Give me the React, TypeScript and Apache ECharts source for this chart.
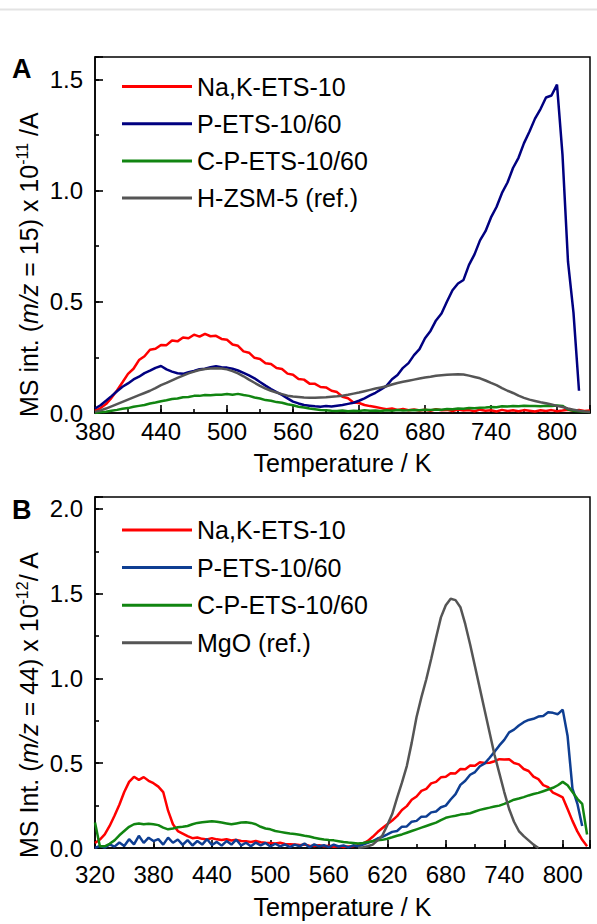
import React, { useEffect, useRef } from 'react';
import * as echarts from 'echarts';

const FONT = '"Liberation Sans", Arial, Helvetica, sans-serif';

function range(a: number, b: number, s: number): number[] {
  const r: number[] = [];
  for (let t = a; t <= b + 1e-9; t += s) r.push(t);
  return r;
}

// ---------- Panel A (m/z = 15) ----------
const tempA = range(380, 830, 5);
const xTicksA = { min: 380, max: 830, minor: 30, major: 60 };
const yTicksA = { min: 0, max: 1.6, minor: 0.25, major: 0.5 };

const aNaK = [
  0.010, 0.022, 0.040, 0.068, 0.101, 0.138, 0.176, 0.199, 0.238, 0.255,
  0.284, 0.289, 0.306, 0.305, 0.326, 0.322, 0.339, 0.336, 0.352, 0.343,
  0.356, 0.345, 0.347, 0.333, 0.329, 0.308, 0.302, 0.277, 0.271, 0.248,
  0.243, 0.224, 0.220, 0.202, 0.198, 0.177, 0.172, 0.153, 0.150, 0.132,
  0.131, 0.117, 0.115, 0.100, 0.094, 0.073, 0.066, 0.047, 0.045, 0.036,
  0.031, 0.027, 0.022, 0.017, 0.020, 0.014, 0.018, 0.012, 0.016, 0.011,
  0.015, 0.010, 0.017, 0.012, 0.014, 0.009, 0.016, 0.011, 0.013, 0.008,
  0.015, 0.010, 0.012, 0.007, 0.014, 0.009, 0.012, 0.008, 0.013, 0.010,
  0.007, 0.012, 0.009, 0.013, 0.008, 0.011, 0.015, 0.010, 0.013, 0.009,
  0.011,
];
const aPETS = [
  0.020, 0.035, 0.055, 0.076, 0.098, 0.118, 0.133, 0.151, 0.163, 0.179,
  0.190, 0.203, 0.211, 0.196, 0.186, 0.179, 0.176, 0.183, 0.189, 0.197,
  0.199, 0.206, 0.210, 0.206, 0.204, 0.199, 0.191, 0.180, 0.169, 0.156,
  0.139, 0.123, 0.108, 0.094, 0.081, 0.066, 0.051, 0.043, 0.036, 0.033,
  0.030, 0.028, 0.031, 0.029, 0.033, 0.036, 0.041, 0.046, 0.055, 0.066,
  0.079, 0.091, 0.106, 0.122, 0.152, 0.171, 0.203, 0.224, 0.260, 0.287,
  0.336, 0.369, 0.416, 0.447, 0.501, 0.552, 0.582, 0.598, 0.666, 0.713,
  0.776, 0.817, 0.879, 0.926, 0.989, 1.036, 1.101, 1.147, 1.213, 1.265,
  1.323, 1.366, 1.418, 1.427, 1.476, 1.160, 0.680, 0.450, 0.100, null,
  null,
];
const aCPETS = [
  0.000, 0.003, 0.006, 0.010, 0.014, 0.019, 0.022, 0.028, 0.032, 0.036,
  0.043, 0.047, 0.053, 0.057, 0.063, 0.065, 0.071, 0.072, 0.077, 0.077,
  0.081, 0.080, 0.082, 0.082, 0.085, 0.082, 0.086, 0.081, 0.077, 0.070,
  0.065, 0.058, 0.055, 0.049, 0.046, 0.039, 0.035, 0.028, 0.025, 0.020,
  0.017, 0.014, 0.012, 0.010, 0.009, 0.011, 0.008, 0.010, 0.009, 0.012,
  0.010, 0.011, 0.009, 0.012, 0.010, 0.013, 0.011, 0.012, 0.014, 0.012,
  0.015, 0.013, 0.016, 0.015, 0.018, 0.017, 0.020, 0.019, 0.022, 0.021,
  0.024, 0.025, 0.027, 0.026, 0.030, 0.029, 0.031, 0.030, 0.033, 0.031,
  0.032, 0.030, 0.033, 0.031, 0.034, 0.032, 0.016, 0.010, 0.008, 0.006,
  0.005,
];
const aHZSM = [
  0.005, 0.012, 0.020, 0.030, 0.040, 0.050, 0.060, 0.070, 0.080, 0.090,
  0.100, 0.112, 0.125, 0.135, 0.147, 0.158, 0.168, 0.178, 0.186, 0.193,
  0.198, 0.200, 0.201, 0.200, 0.196, 0.188, 0.178, 0.165, 0.150, 0.136,
  0.122, 0.110, 0.100, 0.092, 0.085, 0.078, 0.074, 0.072, 0.070, 0.069,
  0.069, 0.070, 0.071, 0.073, 0.075, 0.078, 0.082, 0.087, 0.092, 0.098,
  0.104, 0.110, 0.115, 0.120, 0.128, 0.135, 0.140, 0.145, 0.150, 0.155,
  0.160, 0.163, 0.167, 0.170, 0.172, 0.173, 0.174, 0.173, 0.168, 0.162,
  0.156, 0.146, 0.135, 0.125, 0.112, 0.100, 0.090, 0.078, 0.068, 0.060,
  0.054, 0.048, 0.044, 0.038, 0.032, 0.027, 0.020, 0.015, 0.010, 0.007,
  0.005,
];
const namesA = ['Na,K-ETS-10', 'P-ETS-10/60', 'C-P-ETS-10/60', 'H-ZSM-5 (ref.)'];
const colorsA = ['#ff0000', '#000080', '#118511', '#555555'];

// ---------- Panel B (m/z = 44) ----------
const tempB = range(320, 825, 5);
const xTicksB = { min: 320, max: 828, minor: 30, major: 60 };
const yTicksB = { min: 0, max: 2.07, minor: 0.25, major: 0.5 };

const bNaK = [
  0.030, 0.050, 0.080, 0.130, 0.190, 0.255, 0.330, 0.390, 0.420, 0.402,
  0.418, 0.396, 0.382, 0.362, 0.330, 0.220, 0.140, 0.100, 0.085, 0.070,
  0.058, 0.062, 0.054, 0.050, 0.058, 0.051, 0.047, 0.052, 0.044, 0.048,
  0.041, 0.040, 0.036, 0.041, 0.034, 0.031, 0.030, 0.027, 0.031, 0.024,
  0.022, 0.020, 0.017, 0.021, 0.014, 0.012, 0.016, 0.010, 0.013, 0.008,
  0.011, 0.006, 0.009, 0.011, 0.016, 0.026, 0.042, 0.066, 0.094, 0.118,
  0.140, 0.162, 0.188, 0.224, 0.247, 0.284, 0.304, 0.337, 0.349, 0.381,
  0.390, 0.417, 0.420, 0.441, 0.440, 0.466, 0.465, 0.487, 0.485, 0.506,
  0.502, 0.503, 0.512, 0.524, 0.522, 0.523, 0.501, 0.493, 0.466, 0.454,
  0.421, 0.406, 0.371, 0.359, 0.326, 0.313, 0.298, 0.230, 0.160, 0.098,
  0.048, 0.010,
];
const bPETS = [
  0.000, 0.012, 0.002, 0.021, 0.008, 0.032, 0.012, 0.052, 0.022, 0.072,
  0.030, 0.061, 0.041, 0.052, 0.020, 0.061, 0.031, 0.050, 0.019, 0.046,
  0.015, 0.041, 0.020, 0.052, 0.018, 0.036, 0.014, 0.041, 0.020, 0.049,
  0.015, 0.031, 0.010, 0.032, 0.016, 0.030, 0.009, 0.025, 0.010, 0.021,
  0.005, 0.020, 0.010, 0.026, 0.004, 0.021, 0.010, 0.016, 0.005, 0.020,
  0.009, 0.015, 0.004, 0.016, 0.010, 0.020, 0.030, 0.041, 0.056, 0.066,
  0.080, 0.095, 0.100, 0.126, 0.127, 0.155, 0.160, 0.185, 0.186, 0.210,
  0.215, 0.240, 0.250, 0.286, 0.318, 0.372, 0.397, 0.432, 0.448, 0.482,
  0.499, 0.532, 0.567, 0.605, 0.638, 0.682, 0.698, 0.722, 0.742, 0.755,
  0.762, 0.775, 0.778, 0.800, 0.797, 0.789, 0.816, 0.660, 0.350, 0.262,
  0.130, null,
];
const bCPETS = [
  0.150, 0.010, 0.010, 0.025, 0.045, 0.075, 0.100, 0.125, 0.140, 0.145,
  0.140, 0.143, 0.140, 0.135, 0.120, 0.110, 0.115, 0.122, 0.125, 0.130,
  0.140, 0.148, 0.152, 0.155, 0.158, 0.155, 0.150, 0.145, 0.140, 0.145,
  0.150, 0.152, 0.148, 0.140, 0.125, 0.115, 0.110, 0.100, 0.095, 0.090,
  0.085, 0.082, 0.078, 0.072, 0.068, 0.060, 0.055, 0.050, 0.047, 0.045,
  0.040, 0.035, 0.032, 0.030, 0.027, 0.030, 0.035, 0.040, 0.045, 0.048,
  0.055, 0.063, 0.072, 0.080, 0.090, 0.100, 0.110, 0.120, 0.130, 0.140,
  0.150, 0.165, 0.178, 0.185, 0.190, 0.197, 0.200, 0.205, 0.215, 0.225,
  0.232, 0.238, 0.245, 0.250, 0.260, 0.272, 0.285, 0.292, 0.300, 0.310,
  0.318, 0.325, 0.335, 0.345, 0.355, 0.370, 0.390, 0.370, 0.330, 0.290,
  0.260, 0.080,
];
const bMgO = [
  null, null, null, null, null, null, null, null, null, null,
  null, null, null, null, null, null, null, null, null, null,
  null, null, null, null, null, null, null, null, null, null,
  null, null, null, null, null, null, null, null, null, null,
  null, null, null, null, null, null, null, null, null, null,
  null, null, null, null, 0.000, 0.004, 0.010, 0.020, 0.045, 0.075,
  0.135, 0.200, 0.295, 0.385, 0.483, 0.620, 0.773, 0.890, 0.995, 1.115,
  1.240, 1.360, 1.432, 1.470, 1.462, 1.420, 1.320, 1.200, 1.070, 0.940,
  0.810, 0.680, 0.550, 0.440, 0.330, 0.230, 0.155, 0.100, 0.070, 0.045,
  0.020, 0.000, null, null, null, null, null, null, null, null,
  null, null,
];
const namesB = ['Na,K-ETS-10', 'P-ETS-10/60', 'C-P-ETS-10/60', 'MgO (ref.)'];
const colorsB = ['#ff0000', '#0e3e92', '#118511', '#555555'];

const pairs = (t: number[], v: (number | null)[]) =>
  t.map((x, i) => [x, v[i]]).filter((p) => p[1] !== null);

const tickStyle = { color: '#000', width: 1.6 };

function axesX(cfg: any, labelMargin: number, nameGap: number) {
  return [
    {
      type: 'value',
      position: 'bottom',
      min: cfg.min,
      max: cfg.max,
      interval: cfg.minor,
      name: 'Temperature / K',
      nameLocation: 'middle',
      nameGap,
      nameTextStyle: { fontSize: 25, color: '#000', fontFamily: FONT },
      axisLine: { show: true, lineStyle: { color: '#000', width: 1.5 } },
      axisTick: { show: true, inside: true, length: 4, lineStyle: tickStyle },
      axisLabel: {
        fontSize: 24,
        color: '#000',
        fontFamily: FONT,
        margin: labelMargin,
        formatter: (v: number) => (Math.abs((v - cfg.min) % cfg.major) < 1e-6 ? String(v) : ''),
      },
      splitLine: { show: false },
    },
    {
      type: 'value',
      position: 'bottom',
      offset: 0,
      min: cfg.min,
      max: cfg.max,
      interval: cfg.major,
      axisLine: { show: false },
      axisTick: { show: true, inside: true, length: 8, lineStyle: tickStyle },
      axisLabel: { show: false },
      splitLine: { show: false },
    },
  ];
}

function axesY(cfg: any) {
  return [
    {
      type: 'value',
      position: 'left',
      min: cfg.min,
      max: cfg.max,
      interval: cfg.minor,
      axisLine: { show: true, lineStyle: { color: '#000', width: 1.5 } },
      axisTick: { show: true, inside: true, length: 4, lineStyle: tickStyle },
      axisLabel: {
        fontSize: 24,
        color: '#000',
        fontFamily: FONT,
        margin: 12,
        formatter: (v: number) =>
          Math.abs(v / cfg.major - Math.round(v / cfg.major)) < 1e-6 ? v.toFixed(1) : '',
      },
      splitLine: { show: false },
    },
    {
      type: 'value',
      position: 'left',
      offset: 0,
      min: cfg.min,
      max: cfg.max,
      interval: cfg.major,
      axisLine: { show: false },
      axisTick: { show: true, inside: true, length: 8, lineStyle: tickStyle },
      axisLabel: { show: false },
      splitLine: { show: false },
    },
  ];
}

function makeSeries(temps: number[], vals: (number | null)[][], names: string[], colors: string[]) {
  return vals.map((v, i) => ({
    type: 'line',
    name: names[i],
    xAxisIndex: 0,
    yAxisIndex: 0,
    data: pairs(temps, v),
    symbol: 'none',
    showSymbol: false,
    color: colors[i],
    lineStyle: { width: 2.5, color: colors[i] },
  }));
}

function legendCfg(names: string[], top: number, gap: number) {
  return {
    orient: 'vertical',
    left: 122,
    top,
    padding: 0,
    itemGap: gap,
    icon: 'rect',
    itemWidth: 70,
    itemHeight: 3,
    textStyle: { fontSize: 25, lineHeight: 25, color: '#000', fontFamily: FONT },
    data: names,
  };
}

function yName(text: string, x: number, y: number) {
  return {
    type: 'text',
    x,
    y,
    rotation: Math.PI / 2,
    style: {
      text,
      align: 'left',
      verticalAlign: 'middle',
      rich: {
        n: { fontSize: 25, fontFamily: FONT, fill: '#000', lineHeight: 30 },
        i: { fontSize: 25, fontFamily: FONT, fill: '#000', fontStyle: 'italic', lineHeight: 30 },
        s: { fontSize: 16, fontFamily: FONT, fill: '#000', lineHeight: 16, verticalAlign: 'top' },
      },
    },
  };
}

function panelLabel(text: string, y: number) {
  return {
    type: 'text',
    x: 12,
    y,
    style: {
      text,
      fontSize: 27,
      fontWeight: 'bold',
      fontFamily: FONT,
      fill: '#000',
      align: 'left',
      verticalAlign: 'middle',
    },
  };
}

const optionA = {
  animation: false,
  grid: { left: 95, top: 57, width: 495, height: 356, show: true, borderColor: '#000', borderWidth: 1.5 },
  xAxis: axesX(xTicksA, 6, 37),
  yAxis: axesY(yTicksA),
  legend: legendCfg(namesA, 74, 12.2),
  series: makeSeries(tempA, [aNaK, aPETS, aCPETS, aHZSM], namesA, colorsA),
  graphic: [
    { type: 'line', shape: { x1: 0, y1: 9.5, x2: 597, y2: 9.5 }, style: { stroke: '#e3e3e3', lineWidth: 2 } },
    panelLabel('A', 69),
    yName('{n|MS int. (}{i|m/z}{n| = 15) x 10}{s|-11}{n| /A}', 29, 417),
  ],
};

const optionB = {
  animation: false,
  grid: { left: 95, top: 17, width: 495, height: 356, show: true, borderColor: '#000', borderWidth: 1.5 },
  xAxis: axesX(xTicksB, 14, 46),
  yAxis: axesY(yTicksB),
  legend: legendCfg(namesB, 37.5, 12.6),
  series: makeSeries(tempB, [bNaK, bPETS, bCPETS, bMgO], namesB, colorsB),
  graphic: [
    panelLabel('B', 30),
    yName('{n|MS Int. (}{i|m/z}{n| = 44) x 10}{s|-12}{n|/ A}', 29, 378),
  ],
};

function Chart({ option, top, height }: { option: any; top: number; height: number }) {
  const ref = useRef<HTMLDivElement>(null);
  useEffect(() => {
    if (!ref.current) return;
    const chart = echarts.init(ref.current, undefined, { renderer: 'svg' });
    chart.setOption(option);
    return () => chart.dispose();
  }, [option]);
  return <div ref={ref} style={{ position: 'absolute', left: 0, top, width: 597, height }} />;
}

export default function App() {
  return (
    <div style={{ position: 'absolute', left: 0, top: 0, width: 597, height: 924, background: '#fff' }}>
      <Chart option={optionA} top={0} height={480} />
      <Chart option={optionB} top={480} height={444} />
    </div>
  );
}
